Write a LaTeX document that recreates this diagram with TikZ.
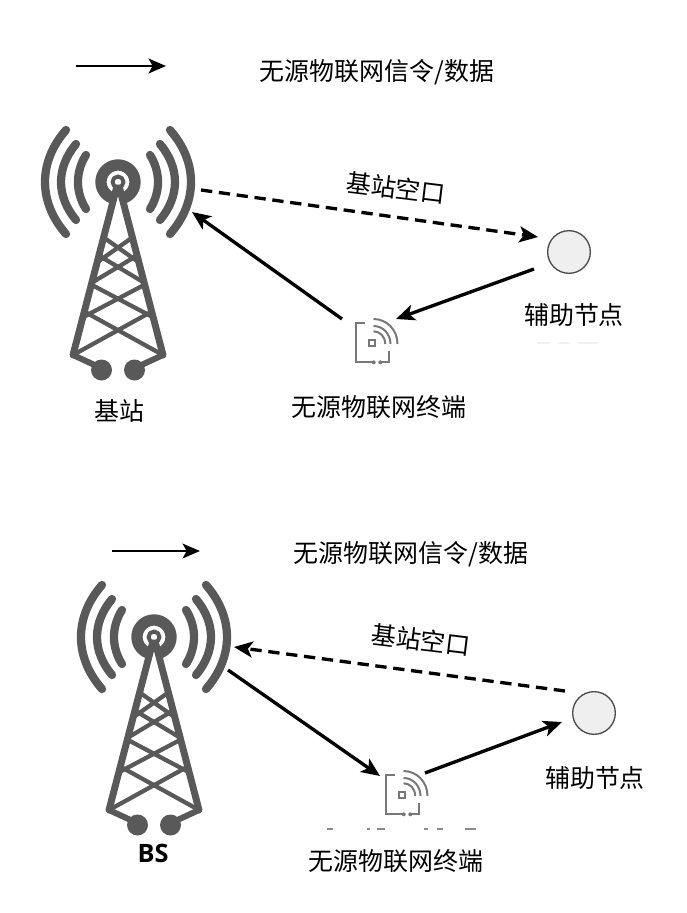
\documentclass[tikz,border=0pt]{standalone}
\usepackage{fontspec}
\setmainfont{Noto Sans CJK SC}
\newfontfamily\latinbold{Open Sans}
\usetikzlibrary{arrows.meta}
\definecolor{towergray}{RGB}{89, 89, 89}
\definecolor{tagegray}{RGB}{120, 120, 120}
\definecolor{auxfill}{RGB}{238, 239, 238}
\tikzset{
    flowline/.style={line width=2.5pt, -{Stealth[length=14pt,width=12pt,inset=3.5pt]}},
    airline/.style={flowline, dash pattern=on 8.5pt off 5pt},
    legendline/.style={line width=2pt, -{Stealth[length=13pt,width=11pt,inset=3pt]}},
    label/.style={font=\fontsize{18.7pt}{20pt}\selectfont, inner sep=0pt},
    auxnode/.style={circle, draw=black!70, fill=auxfill, line width=1pt, minimum size=32pt, inner sep=0pt},
    bstower/.pic={
        \begin{scope}[towergray, line cap=round, line join=round]
            % Radio waves on both sides
            \foreach \s in {-1,1} {
                \draw[line width=6.2pt] (\s*32,-27) .. controls (\s*42.7,-10) and (\s*42.7,10) .. (\s*32,27);
                \draw[line width=6.2pt] (\s*42,-38) .. controls (\s*62,-14) and (\s*62,14) .. (\s*42,38);
                \draw[line width=6.2pt] (\s*52,-52) .. controls (\s*80,-20) and (\s*80,20) .. (\s*52,52);
            }
            % Antenna head
            \draw[line width=8.5pt, line cap=butt] plot[domain=112:428, samples=40] ({17*cos(\x)},{17*sin(\x)});
            \draw[line width=3pt] (0,0) circle (5.5);
            % Legs and lattice
            \draw[line width=5.2pt] (-45,173) -- (-1.5,6) -- (1.5,6) -- (45,173);
            \foreach \xa/\ya/\xb/\yb in {13.6/56/19/79, 18.3/74/25/100, 26/103/34.6/135, 33/130/45/173} {
                \draw[line width=3.2pt] (-\xa,\ya) -- (\xb,\yb);
                \draw[line width=3.2pt] (\xa,\ya) -- (-\xb,\yb);
            }
            % Feet
            \foreach \s in {-1,1} {
                \draw[line width=4.5pt] (\s*45,173) -- (\s*17,186);
                \fill (\s*16.5,188) circle (10.5);
            }
        \end{scope}
    },
    tagicon/.pic={
        \begin{scope}[tagegray, line width=1.5pt]
            \draw (-6.7,-20) -- (-15.7,-20) -- (-15.7,19.3) -- (1.7,19.3);
            \draw (8.3,19.3) -- (16.7,19.3) -- (16.7,8.3);
            \fill (1.7,19.3) circle (2);
            \fill (8.3,19.3) circle (2);
            \draw (-2.7,-2.7) rectangle (2.7,2.7);
            \foreach \r in {11.7,17,24} {
                \draw (1.5,-\r) .. controls ({1.5+.55*\r},-\r) and ({1.5+\r},{-.55*\r}) .. ({1.5+\r},1);
            }
        \end{scope}
    }
}

\begin{document}
\begin{tikzpicture}[x=0.75pt, y=-0.75pt]
    \useasboundingbox (0,0) rectangle (686,913);

    % Upper diagram
    \coordinate (legAs) at (76,66);
    \coordinate (legAe) at (166,66);
    \draw[legendline] (legAs) -- (legAe);
    \node[label] (legAt) at (377,72) {无源物联网信令/数据};

    \pic (bsA) at (118,182) {bstower};
    \node[label] (bsAt) at (119,411) {基站};
    \node[auxnode] (auxA) at (569,252) {};
    \node[label] (auxAt) at (574,315) {辅助节点};
    \pic (tagA) at (372,343) {tagicon};
    \node[label] (tagAt) at (379,407) {无源物联网终端};
    \node[label, rotate=-7] (airAt) at (396,188) {基站空口};

    \coordinate (bsAout) at (201,190);
    \coordinate (bsAin) at (192,212);
    \coordinate (auxAin) at (538,237);
    \coordinate (auxAout) at (534,269);
    \coordinate (tagAin) at (396,319);
    \coordinate (tagAout) at (342,319);
    \draw[airline] (bsAout) -- (auxAin);
    \draw[flowline] (auxAout) -- (tagAin);
    \draw[flowline] (tagAout) -- (bsAin);

    % Lower diagram
    \coordinate (legBs) at (112,551);
    \coordinate (legBe) at (200,551);
    \draw[legendline] (legBs) -- (legBe);
    \node[label] (legBt) at (411,554) {无源物联网信令/数据};

    \pic (bsB) at (154,637) {bstower};
    \node[font=\latinbold\bfseries\fontsize{19pt}{20pt}\selectfont, inner sep=0pt] (bsBt) at (153,853) {BS};
    \node[auxnode] (auxB) at (594,713) {};
    \node[label] (auxBt) at (595,778) {辅助节点};
    \pic (tagB) at (402,795) {tagicon};
    \node[label] (tagBt) at (396,861) {无源物联网终端};
    \node[label, rotate=-7] (airBt) at (421,640) {基站空口};

    \coordinate (bsBout) at (228,670);
    \coordinate (bsBin) at (234,647);
    \coordinate (auxBin) at (562,722);
    \coordinate (auxBout) at (565,691);
    \coordinate (tagBin) at (380,776);
    \coordinate (tagBout) at (425,773);
    \draw[airline] (auxBout) -- (bsBin);
    \draw[flowline] (bsBout) -- (tagBin);
    \draw[flowline] (tagBout) -- (auxBin);

    % Leftover marks under the terminal and the helper node
    \foreach \xa/\xb in {327/333, 367/370, 377/385, 424/428, 437/443, 465/476} {
        \draw[black!45, line width=0.8pt] (\xa,829) -- (\xb,829);
    }
    \foreach \xa/\xb in {537/550, 558/570, 578/598} {
        \draw[black!6, line width=0.8pt] (\xa,343) -- (\xb,343);
    }
\end{tikzpicture}
\end{document}
